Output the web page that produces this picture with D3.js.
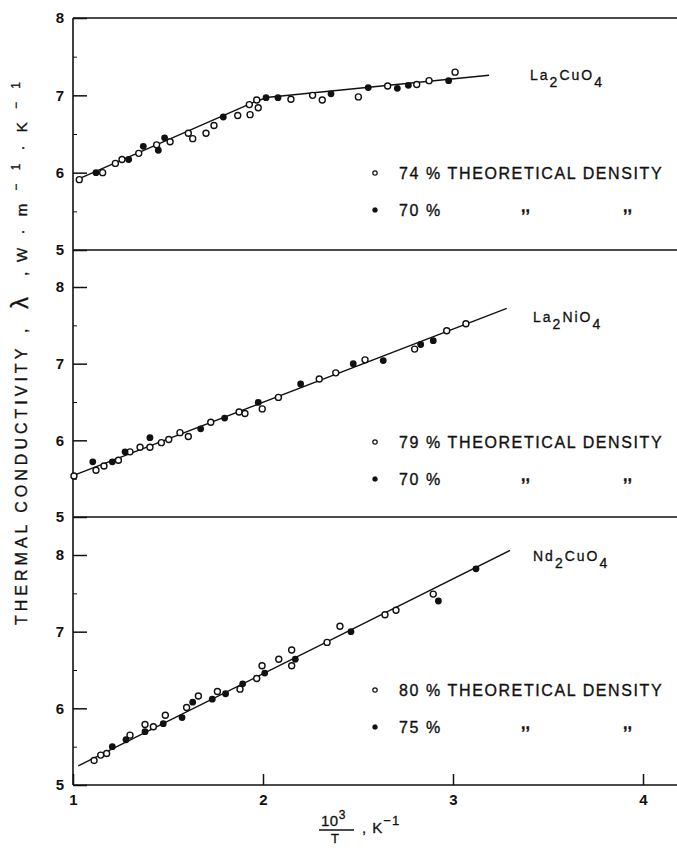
<!DOCTYPE html>
<html>
<head>
<meta charset="utf-8">
<script src="https://cdn.jsdelivr.net/npm/d3@7/dist/d3.min.js"></script>
<style>
  html, body { margin: 0; padding: 0; background: #fff; }
  svg { display: block; font-family: "Liberation Sans", Arial, sans-serif; }
</style>
</head>
<body>
<svg id="chart" width="677" height="848"></svg>
<script>
// ---------------- DATA ----------------
const xTicks = [1, 2, 3, 4];
const yTicks = [5, 6, 7, 8];

// La2CuO4
const cuName = ["La", "2", "CuO", "4"];
const cuOpen = [[1.033,5.91],[1.156,6.00],[1.223,6.12],[1.258,6.17],[1.346,6.25],[1.440,6.36],[1.511,6.40],[1.607,6.51],[1.630,6.44],[1.700,6.51],[1.742,6.61],[1.867,6.74],[1.928,6.88],[1.932,6.75],[1.967,6.94],[1.975,6.84],[2.147,6.95],[2.261,7.00],[2.312,6.94],[2.502,6.98],[2.656,7.12],[2.809,7.14],[2.874,7.19],[3.011,7.30]];
const cuFilled = [[1.121,6.00],[1.293,6.17],[1.370,6.34],[1.449,6.29],[1.482,6.45],[1.791,6.72],[2.016,6.97],[2.079,6.97],[2.358,7.02],[2.554,7.10],[2.707,7.09],[2.765,7.13],[2.977,7.19]];
const cuLine = [[1.03,5.92],[1.97,6.93],[2.03,6.975],[3.19,7.26]];
const cuLegend = ["74 % THEORETICAL DENSITY", "70 %"];

// La2NiO4
const niName = ["La", "2", "NiO", "4"];
const niOpen = [[1.005,5.535],[1.121,5.61],[1.163,5.665],[1.239,5.74],[1.300,5.85],[1.353,5.91],[1.405,5.91],[1.465,5.97],[1.504,6.01],[1.563,6.10],[1.607,6.05],[1.725,6.235],[1.874,6.37],[1.905,6.35],[1.996,6.41],[2.081,6.56],[2.296,6.80],[2.383,6.88],[2.537,7.05],[2.798,7.19],[2.967,7.43],[3.068,7.52]];
const niFilled = [[1.104,5.72],[1.207,5.72],[1.274,5.85],[1.405,6.035],[1.672,6.15],[1.798,6.29],[1.975,6.495],[2.198,6.735],[2.475,7.00],[2.633,7.04],[2.830,7.25],[2.896,7.30]];
const niLine = [[1.0,5.54],[3.283,7.72]];
const niLegend = ["79 % THEORETICAL DENSITY", "70 %"];

// Nd2CuO4
const ndName = ["Nd", "2", "CuO", "4"];
const ndOpen = [[1.111,5.32],[1.146,5.39],[1.177,5.41],[1.300,5.65],[1.379,5.79],[1.423,5.76],[1.486,5.91],[1.598,6.01],[1.660,6.16],[1.760,6.22],[1.879,6.25],[1.967,6.39],[1.995,6.555],[2.083,6.64],[2.151,6.555],[2.151,6.76],[2.337,6.86],[2.405,7.07],[2.642,7.22],[2.700,7.28],[2.896,7.49]];
const ndFilled = [[1.207,5.50],[1.279,5.59],[1.379,5.695],[1.475,5.80],[1.574,5.88],[1.630,6.08],[1.733,6.12],[1.803,6.19],[1.893,6.32],[2.009,6.46],[2.170,6.64],[2.463,7.00],[2.923,7.40],[3.121,7.82]];
const ndLine = [[1.028,5.25],[3.30,8.06]];
const ndLegend = ["80 % THEORETICAL DENSITY", "75 %"];

// ---------------- LAYOUT ----------------
const svg = d3.select("#chart");
const X0 = 73, XR = 677;
const x = d3.scaleLinear().domain([1, 4]).range([73, 643]);

const panels = [
  { y5: 250, y8: 18,  name: cuName, open: cuOpen, filled: cuFilled, line: cuLine, legend: cuLegend, nameX: 530, nameY: 80,  legY: 173 },
  { y5: 517, y8: 287, name: niName, open: niOpen, filled: niFilled, line: niLine, legend: niLegend, nameX: 533, nameY: 322, legY: 442 },
  { y5: 785, y8: 555, name: ndName, open: ndOpen, filled: ndFilled, line: ndLine, legend: ndLegend, nameX: 533, nameY: 561, legY: 690 }
];

const ink = "#111";

// frame: left axis and horizontal separators
svg.append("line").attr("x1", X0).attr("x2", X0).attr("y1", 18).attr("y2", 785)
  .attr("stroke", ink).attr("stroke-width", 1.6);
[18, 250, 517, 785].forEach(yy => {
  svg.append("line").attr("x1", X0).attr("x2", XR).attr("y1", yy).attr("y2", yy)
    .attr("stroke", ink).attr("stroke-width", 1.6);
});

panels.forEach(p => {
  const y = d3.scaleLinear().domain([5, 8]).range([p.y5, p.y8]);
  const g = svg.append("g");

  const ax = g.append("g").attr("transform", `translate(${X0},0)`)
    .call(d3.axisLeft(y).tickValues(yTicks).tickSize(-14).tickPadding(9).tickFormat(d3.format("d")));
  ax.select(".domain").remove();
  ax.selectAll(".tick line").attr("stroke", ink).attr("stroke-width", 1.5);
  ax.selectAll(".tick text").attr("font-size", 15).attr("fill", ink)
    .attr("font-family", "Liberation Sans, Arial, sans-serif").attr("font-weight", "bold");
  const minor = g.append("g").attr("transform", `translate(${X0},0)`)
    .call(d3.axisLeft(y).tickValues([5.5, 6.5, 7.5]).tickSize(-4).tickFormat(""));
  minor.select(".domain").remove();
  minor.selectAll(".tick line").attr("stroke", ink).attr("stroke-width", 1);

  g.append("path").datum(p.line)
    .attr("d", d3.line().x(d => x(d[0])).y(d => y(d[1])))
    .attr("fill", "none").attr("stroke", ink).attr("stroke-width", 1.4);

  g.selectAll(".o").data(p.open).join("circle")
    .attr("cx", d => x(d[0])).attr("cy", d => y(d[1])).attr("r", 3)
    .attr("fill", "#fff").attr("stroke", ink).attr("stroke-width", 1.4);
  g.selectAll(".f").data(p.filled).join("circle")
    .attr("cx", d => x(d[0])).attr("cy", d => y(d[1])).attr("r", 3.4)
    .attr("fill", ink);

  const t = g.append("text").attr("x", p.nameX).attr("y", p.nameY)
    .attr("font-size", 14).attr("letter-spacing", 2).attr("fill", ink)
    .attr("stroke", ink).attr("stroke-width", 0.3);
  t.append("tspan").text(p.name[0]);
  t.append("tspan").attr("dy", 7).text(p.name[1]);
  t.append("tspan").attr("dy", -7).text(p.name[2]);
  t.append("tspan").attr("dy", 7).text(p.name[3]);

  const L = g.append("g").attr("fill", ink).attr("font-size", 16).attr("letter-spacing", 1.6)
    .attr("stroke", ink).attr("stroke-width", 0.35);
  L.append("circle").attr("cx", 375).attr("cy", p.legY).attr("r", 2.2)
    .attr("fill", "#fff").attr("stroke", ink).attr("stroke-width", 1.2);
  L.append("text").attr("x", 399).attr("y", p.legY + 6).text(p.legend[0]);
  const ly2 = p.legY + 37;
  L.append("circle").attr("cx", 375).attr("cy", ly2).attr("r", 2.5).attr("fill", ink);
  L.append("text").attr("x", 399).attr("y", ly2 + 6).text(p.legend[1]);
  L.append("text").attr("x", 521).attr("y", ly2 + 2).attr("font-weight", "bold").attr("letter-spacing", 0).text(",,");
  L.append("text").attr("x", 623).attr("y", ly2 + 2).attr("font-weight", "bold").attr("letter-spacing", 0).text(",,");
});

// x axis (bottom)
const xa = svg.append("g").attr("transform", "translate(0,785)")
  .call(d3.axisBottom(x).tickValues(xTicks).tickSize(-11).tickPadding(9).tickFormat(d3.format("d")));
xa.select(".domain").remove();
xa.selectAll(".tick line").attr("stroke", ink).attr("stroke-width", 1.5);
xa.selectAll(".tick text").attr("font-size", 15).attr("fill", ink)
  .attr("font-family", "Liberation Sans, Arial, sans-serif").attr("font-weight", "bold");

// x axis title: 10^3 / T , K^-1
const xt = svg.append("g").attr("fill", ink).attr("stroke", ink).attr("stroke-width", 0.3);
xt.append("text").attr("x", 321).attr("y", 826).attr("font-size", 15).attr("letter-spacing", 0.5)
  .text("10").append("tspan").attr("dy", -7).attr("font-size", 12).text("3");
xt.append("line").attr("x1", 319).attr("x2", 354).attr("y1", 830).attr("y2", 830)
  .attr("stroke", ink).attr("stroke-width", 1.4);
xt.append("text").attr("x", 331).attr("y", 843).attr("font-size", 13).text("T");
const kt = xt.append("text").attr("x", 362).attr("y", 833).attr("font-size", 15).attr("letter-spacing", 1);
kt.append("tspan").text(",  K");
kt.append("tspan").attr("dy", -8).attr("font-size", 13).text("−1");

// y axis title (rotated), in pieces
const yg = svg.append("g").attr("fill", ink).attr("stroke", ink).attr("stroke-width", 0.35);
yg.append("text").attr("transform", "translate(27,625) rotate(-90)")
  .attr("font-size", 16).attr("letter-spacing", 4).text("THERMAL CONDUCTIVITY");
yg.append("text").attr("transform", "translate(27,333) rotate(-90)")
  .attr("font-size", 16).text(",");
yg.append("text").attr("transform", "translate(28,309) rotate(-90)")
  .attr("font-size", 24).text("λ");
yg.append("text").attr("transform", "translate(27,276) rotate(-90)")
  .attr("font-size", 16).text(",");
const ut = yg.append("text").attr("transform", "translate(27,262) rotate(-90)")
  .attr("font-size", 15).attr("textLength", 180).attr("lengthAdjust", "spacing");
ut.append("tspan").text("W·m");
ut.append("tspan").attr("dy", -7).attr("font-size", 12).text("−1");
ut.append("tspan").attr("dy", 7).text("·K");
ut.append("tspan").attr("dy", -7).attr("font-size", 12).text("−1");
</script>
</body>
</html>
